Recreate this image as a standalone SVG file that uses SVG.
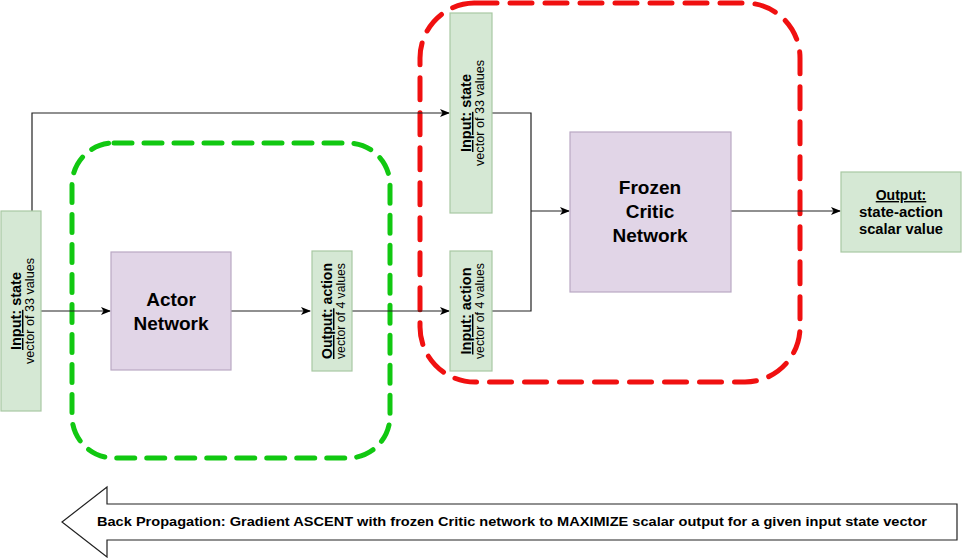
<svg xmlns="http://www.w3.org/2000/svg" width="962" height="558" viewBox="0 0 962 558">
<defs>
<marker id="arr" markerWidth="10" markerHeight="8" refX="9" refY="4" orient="auto" markerUnits="userSpaceOnUse">
<path d="M0,0 L10,4 L0,8 L2.5,4 Z" fill="#000"/>
</marker>
</defs>
<style>
.io{fill:#d5e8d4;stroke:#a9c8a3;stroke-width:1.2}
.nn{fill:#e1d5e7;stroke:#b9a8c4;stroke-width:1.2}
.ln{fill:none;stroke:#222;stroke-width:1.2}
.t{font-family:"Liberation Sans",Arial,sans-serif;fill:#000;text-anchor:middle}
.b{font-weight:bold}
.u{text-decoration:underline}
.gd{fill:none;stroke:#11c811;stroke-width:5;stroke-dasharray:18 12;stroke-linecap:round}
.rd{fill:none;stroke:#f01010;stroke-width:5;stroke-dasharray:22 13;stroke-linecap:round}
</style>
<rect width="962" height="558" fill="#fff"/>

<g id="actor-boundary"><rect class="gd" x="72" y="143" width="318" height="315" rx="42"/></g>
<g id="critic-boundary"><rect class="rd" x="420" y="3" width="380" height="379" rx="55"/></g>

<g id="connectors">
<polyline class="ln" points="32,211 32,113 449,113" marker-end="url(#arr)"/>
<line class="ln" x1="41" y1="311" x2="110" y2="311" marker-end="url(#arr)"/>
<line class="ln" x1="231" y1="311" x2="310" y2="311" marker-end="url(#arr)"/>
<line class="ln" x1="352" y1="311" x2="449" y2="311" marker-end="url(#arr)"/>
<polyline class="ln" points="492,113 531,113 531,311 492,311"/>
<line class="ln" x1="531" y1="211" x2="569" y2="211" marker-end="url(#arr)"/>
<line class="ln" x1="731" y1="211" x2="840" y2="211" marker-end="url(#arr)"/>
</g>

<g id="input-state-left">
<rect class="io" x="1" y="211" width="40" height="200"/>
<g transform="translate(21,311) rotate(-90)">
<text class="t b" x="0" y="0" font-size="14.5" textLength="78" lengthAdjust="spacingAndGlyphs"><tspan class="u">Input:</tspan> state</text>
<text class="t" x="0" y="13" font-size="12.5" textLength="106" lengthAdjust="spacingAndGlyphs">vector of 33 values</text>
</g>
</g>

<g id="actor-network">
<rect class="nn" x="111" y="252" width="120" height="118"/>
<text class="t b" x="171" y="306" font-size="19">Actor</text>
<text class="t b" x="171" y="330" font-size="19">Network</text>
</g>

<g id="output-action">
<rect class="io" x="312" y="251" width="40" height="120"/>
<g transform="translate(332,311) rotate(-90)">
<text class="t b" x="0" y="0" font-size="14.5" textLength="96" lengthAdjust="spacingAndGlyphs"><tspan class="u">Output:</tspan> action</text>
<text class="t" x="0" y="13" font-size="12.5" textLength="96" lengthAdjust="spacingAndGlyphs">vector of 4 values</text>
</g>
</g>

<g id="input-state-critic">
<rect class="io" x="450" y="13" width="42" height="200"/>
<g transform="translate(471,113) rotate(-90)">
<text class="t b" x="0" y="0" font-size="14.5" textLength="78" lengthAdjust="spacingAndGlyphs"><tspan class="u">Input:</tspan> state</text>
<text class="t" x="0" y="13" font-size="12.5" textLength="106" lengthAdjust="spacingAndGlyphs">vector of 33 values</text>
</g>
</g>

<g id="input-action-critic">
<rect class="io" x="450" y="251" width="42" height="120"/>
<g transform="translate(471,311) rotate(-90)">
<text class="t b" x="0" y="0" font-size="14.5" textLength="87" lengthAdjust="spacingAndGlyphs"><tspan class="u">Input:</tspan> action</text>
<text class="t" x="0" y="13" font-size="12.5" textLength="96" lengthAdjust="spacingAndGlyphs">vector of 4 values</text>
</g>
</g>

<g id="critic-network">
<rect class="nn" x="570" y="132" width="161" height="160"/>
<text class="t b" x="650" y="194" font-size="19">Frozen</text>
<text class="t b" x="650" y="218" font-size="19">Critic</text>
<text class="t b" x="650" y="242" font-size="19">Network</text>
</g>

<g id="output-value">
<rect class="io" x="841" y="172" width="120" height="80"/>
<text class="t b u" x="901" y="200" font-size="14">Output:</text>
<text class="t b" x="901" y="217" font-size="14" textLength="84" lengthAdjust="spacingAndGlyphs">state-action</text>
<text class="t b" x="901" y="234" font-size="14" textLength="84" lengthAdjust="spacingAndGlyphs">scalar value</text>
</g>

<g id="backprop-arrow">
<path d="M62,522 L107,487 L107,504 L957,504 L957,540 L107,540 L107,557 Z" fill="#fff" stroke="#222" stroke-width="1.2"/>
<text class="t b" x="512" y="526" font-size="13" textLength="830" lengthAdjust="spacingAndGlyphs">Back Propagation: Gradient ASCENT with frozen Critic network to MAXIMIZE scalar output for a given input state vector</text>
</g>
</svg>
